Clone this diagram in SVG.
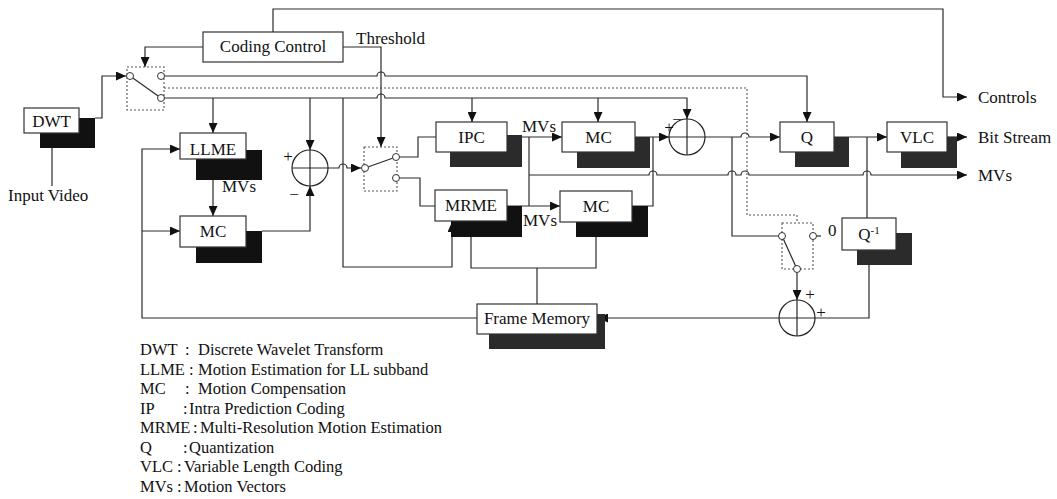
<svg xmlns="http://www.w3.org/2000/svg" width="1057" height="499" viewBox="0 0 1057 499">
<defs>
<style>
.ln{fill:none;stroke:#2a2a2a;stroke-width:1.2}
.dot{fill:none;stroke:#555;stroke-width:1.1;stroke-dasharray:2,2}
.box{fill:#fff;stroke:#333;stroke-width:1.2}
.sh{fill:#111}
.shg{fill:#2b2b2b}
.t{font-family:"Liberation Serif","Times New Roman",serif;font-size:17px;fill:#111}
.tm{font-family:"Liberation Serif","Times New Roman",serif;font-size:17px;fill:#111;text-anchor:middle}
.lg{font-family:"Liberation Serif","Times New Roman",serif;font-size:16.5px;fill:#111}
.sw{fill:#fff;stroke:#333;stroke-width:1}
.add{fill:#fff;stroke:#222;stroke-width:1.2}
</style>
<marker id="ar" markerUnits="userSpaceOnUse" markerWidth="11" markerHeight="9" refX="10" refY="4.5" orient="auto">
<path d="M0,0 L10,4.5 L0,9 z" fill="#111"/>
</marker>
</defs>
<rect x="0" y="0" width="1057" height="499" fill="#fff"/>

<g id="connectors">
<path class="ln" d="M273,32 V9 H943 V97 H967" marker-end="url(#ar)"/>
<path class="ln" d="M203,47 H145 V67" marker-end="url(#ar)"/>
<path class="ln" d="M343,47 H381 V147" marker-end="url(#ar)"/>
<path class="ln" d="M95,118 H102 V76 H126" marker-end="url(#ar)"/>
<path class="ln" d="M52,148 V186"/>
<path class="ln" d="M164.5,76 H377 A4,4 0 0 1 385,76 H807 V122" marker-end="url(#ar)"/>
<path class="ln" d="M164.5,98 H377 A4,4 0 0 1 385,98 H687 V119" marker-end="url(#ar)"/>
<path class="ln" d="M213,98 V133" marker-end="url(#ar)"/>
<path class="ln" d="M310,98 V150" marker-end="url(#ar)"/>
<path class="ln" d="M343,98 V267 H452 V222" marker-end="url(#ar)"/>
<path class="ln" d="M472,98 V122" marker-end="url(#ar)"/>
<path class="ln" d="M598,98 V122" marker-end="url(#ar)"/>
<path class="dot" d="M164,88 H747 V215 H797 V223"/>
<path class="ln" d="M213,180 V216" marker-end="url(#ar)"/>
<path class="ln" d="M477,318 H142 V149 H180" marker-end="url(#ar)"/>
<path class="ln" d="M142,231 H180" marker-end="url(#ar)"/>
<path class="ln" d="M262,231 H310 V186" marker-end="url(#ar)"/>
<path class="ln" d="M328,168 H339 A4,4 0 0 1 347,168 H361" marker-end="url(#ar)"/>
<path class="ln" d="M399.5,157 H418 V137 H436"/>
<path class="ln" d="M399.5,178 H420 V206 H435"/>
<path class="ln" d="M507,137 H562" marker-end="url(#ar)"/>
<path class="ln" d="M529,137 V206"/>
<path class="ln" d="M529,175 H649 A4,4 0 0 1 657,175 H728 A4,4 0 0 1 736,175 H741 A4,4 0 0 1 749,175 H863 A4,4 0 0 1 871,175 H967" marker-end="url(#ar)"/>
<path class="ln" d="M507,206 H560" marker-end="url(#ar)"/>
<path class="ln" d="M632,206 H653 V137"/>
<path class="ln" d="M635,137 H669" marker-end="url(#ar)"/>
<path class="ln" d="M705,137 H741 A4,4 0 0 1 749,137 H780" marker-end="url(#ar)"/>
<path class="ln" d="M732,137 V236 H778.5"/>
<path class="ln" d="M471,237 V268 H596 V237"/>
<path class="ln" d="M537,268 V304"/>
<path class="ln" d="M834,137 H887" marker-end="url(#ar)"/>
<path class="ln" d="M867,137 V218"/>
<path class="ln" d="M947,137 H967" marker-end="url(#ar)"/>
<path class="ln" d="M869,265 V318 H815"/>
<path class="ln" d="M797,272.5 V300" marker-end="url(#ar)"/>
<path class="ln" d="M779,318 H598" marker-end="url(#ar)"/>
<path class="ln" d="M816.5,236 H821"/>
</g>

<g id="switch1">
<rect class="dot" x="127" y="67" width="37" height="43"/>
<line class="ln" x1="130" y1="76" x2="161" y2="98"/>
<circle class="sw" cx="130" cy="76" r="3.5"/>
<circle class="sw" cx="161" cy="76" r="3.5"/>
<circle class="sw" cx="161" cy="98" r="3.5"/>
</g>
<g id="switch2">
<rect class="dot" x="364" y="147" width="33" height="44"/>
<line class="ln" x1="365" y1="168" x2="396" y2="157"/>
<circle class="sw" cx="365" cy="168" r="3.5"/>
<circle class="sw" cx="396" cy="157" r="3.5"/>
<circle class="sw" cx="396" cy="178" r="3.5"/>
</g>
<g id="switch3">
<rect class="dot" x="782" y="223" width="31" height="46"/>
<line class="ln" x1="782" y1="236" x2="797" y2="269"/>
<circle class="sw" cx="782" cy="236" r="3.5"/>
<circle class="sw" cx="813" cy="236" r="3.5"/>
<circle class="sw" cx="797" cy="269" r="3.5"/>
</g>

<g id="dwt">
<rect class="sh" x="40" y="118" width="55" height="30"/>
<rect class="box" x="24" y="108" width="55" height="25"/>
<text class="tm" x="51.5" y="127">DWT</text>
</g>
<g id="coding-control">
<rect class="box" x="203" y="32" width="140" height="30"/>
<text class="tm" x="273" y="52">Coding Control</text>
</g>
<g id="llme">
<text class="t" x="222" y="192">MVs</text>
<rect class="sh" x="196" y="150" width="66" height="30"/>
<rect class="box" x="180" y="133" width="66" height="26"/>
<text class="tm" x="213" y="155">LLME</text>
</g>
<g id="mc1">
<rect class="sh" x="196" y="231" width="66" height="32"/>
<rect class="box" x="180" y="216" width="66" height="31"/>
<text class="tm" x="213" y="237">MC</text>
</g>
<g id="ipc">
<rect class="shg" x="450" y="135" width="72" height="32"/>
<rect class="box" x="436" y="122" width="71" height="30"/>
<text class="tm" x="471.5" y="143">IPC</text>
</g>
<g id="mc-top">
<rect class="shg" x="577" y="137" width="73" height="31"/>
<rect class="box" x="562" y="122" width="73" height="30"/>
<text class="tm" x="598.5" y="143">MC</text>
</g>
<g id="mrme">
<rect class="sh" x="451" y="206" width="71" height="31"/>
<rect class="box" x="435" y="190" width="72" height="31"/>
<text class="tm" x="471" y="211">MRME</text>
</g>
<g id="mc-bottom">
<rect class="sh" x="576" y="206" width="72" height="31"/>
<rect class="box" x="560" y="191" width="72" height="31"/>
<text class="tm" x="596" y="212">MC</text>
</g>
<g id="q">
<rect class="shg" x="795" y="137" width="54" height="30"/>
<rect class="box" x="780" y="122" width="54" height="30"/>
<text class="tm" x="807" y="143">Q</text>
</g>
<g id="vlc">
<rect class="shg" x="901" y="137" width="56" height="31"/>
<rect class="box" x="887" y="122" width="60" height="30"/>
<text class="tm" x="917" y="143">VLC</text>
</g>
<g id="q-inverse">
<rect class="shg" x="857" y="233" width="55" height="32"/>
<rect class="box" x="842" y="218" width="54" height="32"/>
<text class="tm" x="869" y="240">Q<tspan font-size="11" dy="-6">-1</tspan></text>
</g>
<g id="frame-memory">
<rect class="shg" x="489" y="314" width="116" height="35"/>
<rect class="box" x="477" y="304" width="120" height="30"/>
<text class="tm" x="537" y="324">Frame Memory</text>
</g>

<g id="adder1">
<circle class="add" cx="310" cy="168" r="18"/>
<path class="ln" d="M292,168 H328 M310,150 V186"/>
<text class="tm" x="288" y="162">+</text>
<text class="tm" x="294" y="200">−</text>
</g>
<g id="adder2">
<circle class="add" cx="687" cy="137" r="18"/>
<path class="ln" d="M669,137 H705 M687,119 V155"/>
<text class="tm" x="669" y="133">+</text>
<text class="tm" x="677" y="125" font-size="14">−</text>
</g>
<g id="adder3">
<circle class="add" cx="797" cy="318" r="18"/>
<path class="ln" d="M779,318 H815 M797,300 V336"/>
<text class="tm" x="810" y="300">+</text>
<text class="tm" x="821" y="318">+</text>
</g>

<g id="labels">
<text class="t" x="356" y="44">Threshold</text>
<text class="t" x="8" y="201">Input Video</text>
<text class="t" x="522" y="132">MVs</text>
<text class="t" x="523" y="226">MVs</text>
<text class="t" x="828" y="236">0</text>
<text class="t" x="978" y="103">Controls</text>
<text class="t" x="978" y="143">Bit Stream</text>
<text class="t" x="978" y="181">MVs</text>
</g>

<g id="legend">
<text class="lg" x="140" y="355">DWT<tspan x="185">:</tspan><tspan x="198">Discrete Wavelet Transform</tspan></text>
<text class="lg" x="140" y="374.5">LLME<tspan x="189">:</tspan><tspan x="198">Motion Estimation for LL subband</tspan></text>
<text class="lg" x="140" y="394">MC<tspan x="185">:</tspan><tspan x="198">Motion Compensation</tspan></text>
<text class="lg" x="140" y="413.5">IP<tspan x="183">:</tspan><tspan x="189">Intra Prediction Coding</tspan></text>
<text class="lg" x="140" y="433">MRME<tspan x="193">:</tspan><tspan x="200">Multi-Resolution Motion Estimation</tspan></text>
<text class="lg" x="140" y="452.5">Q<tspan x="183">:</tspan><tspan x="189">Quantization</tspan></text>
<text class="lg" x="140" y="472">VLC<tspan x="177">:</tspan><tspan x="184">Variable Length Coding</tspan></text>
<text class="lg" x="140" y="491.5">MVs<tspan x="177">:</tspan><tspan x="184">Motion Vectors</tspan></text>
</g>
</svg>
